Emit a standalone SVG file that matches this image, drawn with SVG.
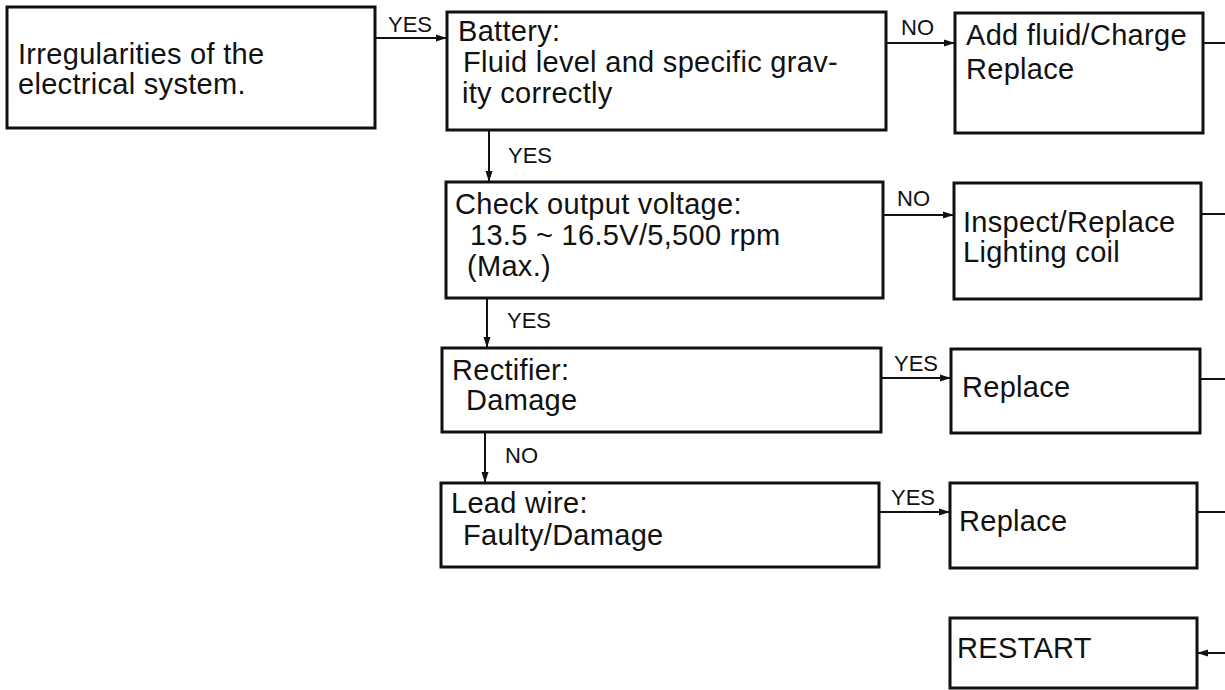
<svg xmlns="http://www.w3.org/2000/svg" width="1225" height="690" viewBox="0 0 1225 690">
<style>
.box{fill:#fff;stroke:#111;stroke-width:3}
.t{font-family:"Liberation Sans",Arial,sans-serif;font-size:29px;letter-spacing:0.3px;fill:#111}
.lb{font-family:"Liberation Sans",Arial,sans-serif;font-size:22px;fill:#111}
.c{fill:none;stroke:#111;stroke-width:2}
</style>
<defs>
<marker id="ah" markerUnits="userSpaceOnUse" markerWidth="12" markerHeight="8" refX="11" refY="4" orient="auto">
<path d="M0,0.5 L11,4 L0,7.5 z" fill="#111"/>
</marker>
</defs>
<rect width="1225" height="690" fill="#fff"/>
<g id="connectors">
<line class="c" x1="375" y1="38" x2="447" y2="38" marker-end="url(#ah)"/>
<text class="lb" x="388" y="32">YES</text>
<line class="c" x1="886" y1="43" x2="955" y2="43" marker-end="url(#ah)"/>
<text class="lb" x="901" y="35">NO</text>
<line class="c" x1="1203" y1="43" x2="1225" y2="43"/>
<line class="c" x1="489" y1="130" x2="489" y2="182" marker-end="url(#ah)"/>
<text class="lb" x="508" y="163">YES</text>
<line class="c" x1="883" y1="215" x2="954" y2="215" marker-end="url(#ah)"/>
<text class="lb" x="897" y="206">NO</text>
<line class="c" x1="1201" y1="214" x2="1225" y2="214"/>
<line class="c" x1="487" y1="298" x2="487" y2="348" marker-end="url(#ah)"/>
<text class="lb" x="507" y="328">YES</text>
<line class="c" x1="881" y1="378" x2="951" y2="378" marker-end="url(#ah)"/>
<text class="lb" x="894" y="371">YES</text>
<line class="c" x1="1200" y1="379" x2="1225" y2="379"/>
<line class="c" x1="485" y1="432" x2="485" y2="483" marker-end="url(#ah)"/>
<text class="lb" x="505" y="463">NO</text>
<line class="c" x1="879" y1="512" x2="950" y2="512" marker-end="url(#ah)"/>
<text class="lb" x="891" y="505">YES</text>
<line class="c" x1="1197" y1="512" x2="1225" y2="512"/>
<line class="c" x1="1225" y1="653" x2="1197" y2="653" marker-end="url(#ah)"/>
</g>
<g id="start">
<rect class="box" x="7" y="7" width="368" height="121"/>
<text class="t" x="18" y="64">Irregularities of the</text>
<text class="t" x="18" y="94">electrical system.</text>
</g>
<g id="battery">
<rect class="box" x="447" y="12" width="439" height="118"/>
<text class="t" x="458" y="41">Battery:</text>
<text class="t" x="463" y="72">Fluid level and specific grav-</text>
<text class="t" x="462" y="103">ity correctly</text>
</g>
<g id="add-fluid">
<rect class="box" x="955" y="13" width="248" height="120"/>
<text class="t" x="966" y="45">Add fluid/Charge</text>
<text class="t" x="966" y="79">Replace</text>
</g>
<g id="check-output">
<rect class="box" x="446" y="182" width="437" height="116"/>
<text class="t" x="455" y="214">Check output voltage:</text>
<text class="t" x="470" y="245">13.5 ~ 16.5V/5,500 rpm</text>
<text class="t" x="467" y="276">(Max.)</text>
</g>
<g id="inspect">
<rect class="box" x="954" y="183" width="247" height="116"/>
<text class="t" x="963" y="232">Inspect/Replace</text>
<text class="t" x="963" y="262">Lighting coil</text>
</g>
<g id="rectifier">
<rect class="box" x="442" y="348" width="439" height="84"/>
<text class="t" x="452" y="380">Rectifier:</text>
<text class="t" x="466" y="410">Damage</text>
</g>
<g id="replace-1">
<rect class="box" x="951" y="349" width="249" height="84"/>
<text class="t" x="962" y="397">Replace</text>
</g>
<g id="lead-wire">
<rect class="box" x="441" y="483" width="438" height="84"/>
<text class="t" x="451" y="513">Lead wire:</text>
<text class="t" x="463" y="545">Faulty/Damage</text>
</g>
<g id="replace-2">
<rect class="box" x="950" y="483" width="247" height="85"/>
<text class="t" x="959" y="531">Replace</text>
</g>
<g id="restart">
<rect class="box" x="950" y="618" width="247" height="70"/>
<text class="t" x="957" y="658">RESTART</text>
</g>
</svg>
